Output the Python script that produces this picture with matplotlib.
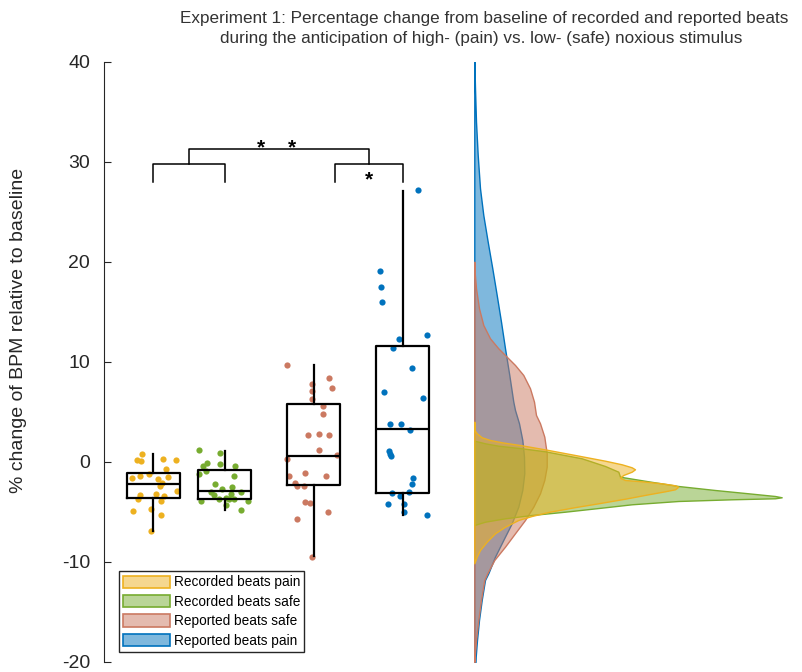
import matplotlib
matplotlib.use("Agg")
import matplotlib.pyplot as plt
from matplotlib.patches import Patch
from matplotlib.colors import to_rgba

plt.rcParams['font.family'] = ['Liberation Sans', 'DejaVu Sans']
plt.rcParams['axes.unicode_minus'] = False

# groups, in legend order
names = ["Recorded beats pain", "Recorded beats safe", "Reported beats safe", "Reported beats pain"]
colors = ["#EDB120", "#77AC30", "#CB7961", "#0072BD"]
positions = [1, 2, 3.25, 4.5]

# % change of BPM per subject
rec_pain = [0.8, 0.17, 0.07, 0.33, 0.2, -0.73, -1.6, -1.4, -1.23, -1.7, -2.07, -1.53,
            -2.4, -2.9, -3.27, -3.67, -3.17, -3.37, -3.87, -4.9, -4.73, -5.33, -6.93]
rec_pain_jit = [-0.156, -0.225, -0.169, 0.136, 0.313, 0.178, -0.303, -0.188, -0.058, 0.058, 0.122, 0.197,
                0.086, 0.331, -0.192, -0.219, 0.035, 0.150, 0.100, -0.285, -0.039, 0.108, -0.031]
rec_safe = [1.17, 0.87, -0.17, -0.43, -0.13, -0.43, -1.17, -0.93, -1.37, -2.17, -2.5, -2.73,
            -3.0, -2.97, -3.33, -3.2, -3.67, -3.6, -3.67, -3.73, -3.93, -3.87, -4.33, -4.83]
rec_safe_jit = [-0.364, -0.067, -0.067, -0.308, -0.247, 0.150, -0.354, -0.261, 0.136, -0.142, 0.108, -0.031,
                -0.188, 0.225, -0.146, 0.086, -0.076, 0.017, 0.063, 0.136, -0.331, 0.331, 0.017, 0.229]
rep_safe = [9.73, 8.43, 7.77, 7.37, 7.07, 6.27, 5.6, 4.8, 2.73, 2.83, 2.7, 1.17, 0.67, 0.27,
            -1.43, -1.07, -1.37, -2.13, -2.37, -2.37, -3.97, -4.13, -5.0, -5.7, -9.47]
rep_safe_jit = [-0.371, 0.219, -0.028, 0.261, -0.024, -0.028, 0.135, 0.131, -0.084, 0.079, 0.211, 0.079, 0.323,
                -0.371, -0.343, -0.118, 0.169, -0.258, -0.239, -0.132, -0.118, -0.056, 0.205, -0.230, -0.028]
rep_pain = [27.2, 19.07, 17.53, 16.0, 12.33, 12.73, 11.4, 9.4, 6.97, 6.43, 3.77, 3.83, 3.23,
            1.1, 0.83, 0.6, -1.63, -2.2, -3.0, -3.13, -3.37, -4.17, -4.2, -5.0, -5.33]
rep_pain_jit = [0.211, -0.323, -0.305, -0.295, -0.056, 0.346, -0.132, 0.131, -0.258, 0.285, -0.174, -0.028,
                0.107, -0.197, -0.178, -0.164, 0.149, 0.135, 0.084, -0.154, -0.042, 0.018, -0.202, 0.022, 0.337]

# box summary: whislo, q1, med, q3, whishi
box_lo = [-6.9, -4.8, -9.4, -5.3]
box_q1 = [-3.6, -3.67, -2.33, -3.07]
box_med = [-2.2, -2.93, 0.63, 3.3]
box_q3 = [-1.1, -0.83, 5.83, 11.63]
box_hi = [0.8, 1.13, 9.67, 27.13]

# density outlines (value, density a.u.)
kde_rec_pain_y = [4.03, 3.2, 2.87, 2.47, 2.2, 1.97, 1.67, 1.23, 0.7, 0.13, -0.23, -0.53, -0.73, -0.97,
                  -1.3, -1.57, -1.8, -1.93, -2.13, -2.33, -2.47, -2.73, -2.93, -3.23, -3.67, -4.13,
                  -4.57, -5.0, -5.4, -5.8, -6.47, -7.13, -7.97, -8.8, -9.47, -10.13]
kde_rec_pain_d = [0.0, 0.002, 0.024, 0.074, 0.157, 0.274, 0.474, 0.724, 1.007, 1.307, 1.474, 1.574, 1.607, 1.574,
                  1.49, 1.457, 1.507, 1.674, 1.874, 2.007, 2.04, 2.007, 1.907, 1.74, 1.507, 1.24,
                  0.974, 0.74, 0.574, 0.44, 0.307, 0.207, 0.124, 0.057, 0.024, 0.0]
kde_rec_safe_y = [2.13, 1.87, 1.63, 1.37, 1.07, 0.37, -0.4, -0.97, -1.47, -1.93, -2.4, -2.8, -3.13, -3.4,
                  -3.53, -3.63, -3.73, -3.9, -4.23, -4.53, -4.97, -5.3, -5.63, -5.97, -6.3]
kde_rec_safe_d = [0.0, 0.107, 0.24, 0.474, 0.707, 1.074, 1.307, 1.44, 1.457, 1.74, 2.04, 2.407, 2.74, 3.007,
                  3.074, 3.007, 2.574, 2.04, 1.574, 1.307, 0.907, 0.574, 0.307, 0.107, 0.0]
kde_rep_safe_y = [20.03, 19.03, 17.37, 15.37, 13.7, 12.37, 11.37, 10.53, 9.7, 8.7, 7.37, 6.03, 4.7, 3.87,
                  2.53, 0.87, -0.47, -1.8, -3.13, -4.47, -5.8, -7.13, -8.47, -9.8, -11.13, -11.8,
                  -13.8, -15.8, -17.8, -19.47, -20.0]
kde_rep_safe_d = [0.0, 0.003, 0.017, 0.047, 0.09, 0.157, 0.24, 0.324, 0.407, 0.49, 0.557, 0.597, 0.617, 0.657,
                  0.7, 0.724, 0.724, 0.7, 0.657, 0.59, 0.507, 0.407, 0.307, 0.2, 0.13, 0.1,
                  0.067, 0.04, 0.017, 0.003, 0.0]
kde_rep_pain_y = [40.2, 37.37, 34.03, 30.7, 27.37, 24.7, 22.03, 19.37, 16.7, 14.03, 11.37, 8.7, 6.03, 5.2,
                  3.87, 2.2, 0.53, -1.13, -2.8, -4.47, -6.13, -7.8, -9.47, -11.13, -11.8, -13.8,
                  -15.8, -17.8, -19.47, -20.0]
kde_rep_pain_d = [0.0, 0.007, 0.017, 0.034, 0.057, 0.09, 0.134, 0.18, 0.224, 0.267, 0.307, 0.35, 0.39, 0.407,
                  0.447, 0.48, 0.497, 0.5, 0.48, 0.44, 0.374, 0.29, 0.207, 0.14, 0.107, 0.074,
                  0.047, 0.027, 0.014, 0.012]

# significance
brackets = [(1, 2), (3.55, 4.5)]
bracket_y = 29.77
bracket_leg = 28.03
top_y = 31.27
stars_top = [2.506, 2.94]
star_right = 4.02

values = [rec_pain, rec_safe, rep_safe, rep_pain]
jitters = [rec_pain_jit, rec_safe_jit, rep_safe_jit, rep_pain_jit]
kdes = [(kde_rec_pain_y, kde_rec_pain_d), (kde_rec_safe_y, kde_rec_safe_d),
        (kde_rep_safe_y, kde_rep_safe_d), (kde_rep_pain_y, kde_rep_pain_d)]

W, H = 803, 672
fig = plt.figure(figsize=(W / 100, H / 100), dpi=100)
ax = fig.add_axes([104 / W, 10 / H, (474.3 - 104) / W, 600 / H])
ax2 = fig.add_axes([474.3 / W, 10 / H, (800 - 474.3) / W, 600 / H], sharey=ax)

for i in range(4):
    xs = [positions[i] + j for j in jitters[i]]
    ax.scatter(xs, values[i], s=20, color=colors[i], linewidths=0, zorder=2)

stats = []
for i in range(4):
    stats.append(dict(med=box_med[i], q1=box_q1[i], q3=box_q3[i],
                      whislo=box_lo[i], whishi=box_hi[i], fliers=[]))
lp = dict(color="black", linewidth=1.6)
ax.bxp(stats, positions=positions, widths=0.75, showcaps=False, showfliers=False,
       boxprops=lp, whiskerprops=lp, medianprops=lp, manage_ticks=False, zorder=3)

# brackets
for a, b in brackets:
    ax.plot([a, a, b, b], [bracket_leg, bracket_y, bracket_y, bracket_leg], color="black", lw=1.1)
mids = [(a + b) / 2 for a, b in brackets]
ax.plot([mids[0], mids[0], mids[1], mids[1]], [bracket_y, top_y, top_y, bracket_y], color="black", lw=1.1)
for sx in stars_top:
    ax.text(sx, top_y - 0.8, "*", ha="center", va="bottom", fontsize=15, fontweight="bold")
ax.text(star_right, bracket_y - 2.47, "*", ha="center", va="bottom", fontsize=15, fontweight="bold")

ax.set_xlim(0.305, 5.506)
ax.set_ylim(-20, 40)
ax.set_yticks(range(-20, 41, 10))
for s in ["top", "right", "bottom"]:
    ax.spines[s].set_visible(False)
ax.spines["left"].set_color("#262626")
ax.spines["left"].set_linewidth(0.8)
ax.set_xticks([])
ax.tick_params(axis="y", direction="in", length=5, width=0.8, pad=10, labelsize=14,
               colors="#262626")

# densities, back to front
for i in [3, 2, 1, 0]:
    ky, kd = kdes[i]
    ax2.fill_betweenx(ky, 0, kd, facecolor=to_rgba(colors[i], 0.5), edgecolor=colors[i], linewidth=1.0)
ax2.set_xlim(0, 3.257)
ax2.axis("off")

handles = [Patch(facecolor=to_rgba(c, 0.5), edgecolor=c, linewidth=1.2) for c in colors]
fig.legend(handles, names, loc="lower left", bbox_to_anchor=(119.3 / W, 20.3 / H), borderaxespad=0,
           fancybox=False, edgecolor="#262626", framealpha=1, fontsize=9.8, handlelength=3.4,
           handleheight=1.0, borderpad=0.3, labelspacing=0.4, handletextpad=0.3)

fig.text(19 / W, 1 - 330 / H, "% change of BPM relative to baseline", rotation=90,
         ha="center", va="center", fontsize=14, color="#262626")
fig.text(484 / W, 1 - 18 / H, "Experiment 1: Percentage change from baseline of recorded and reported beats",
         ha="center", va="center", fontsize=12.3, color="#333333")
fig.text(481 / W, 1 - 38 / H, "during the anticipation of high- (pain) vs. low- (safe) noxious stimulus",
         ha="center", va="center", fontsize=12.3, color="#333333")

fig.savefig("out.png", dpi=100)
